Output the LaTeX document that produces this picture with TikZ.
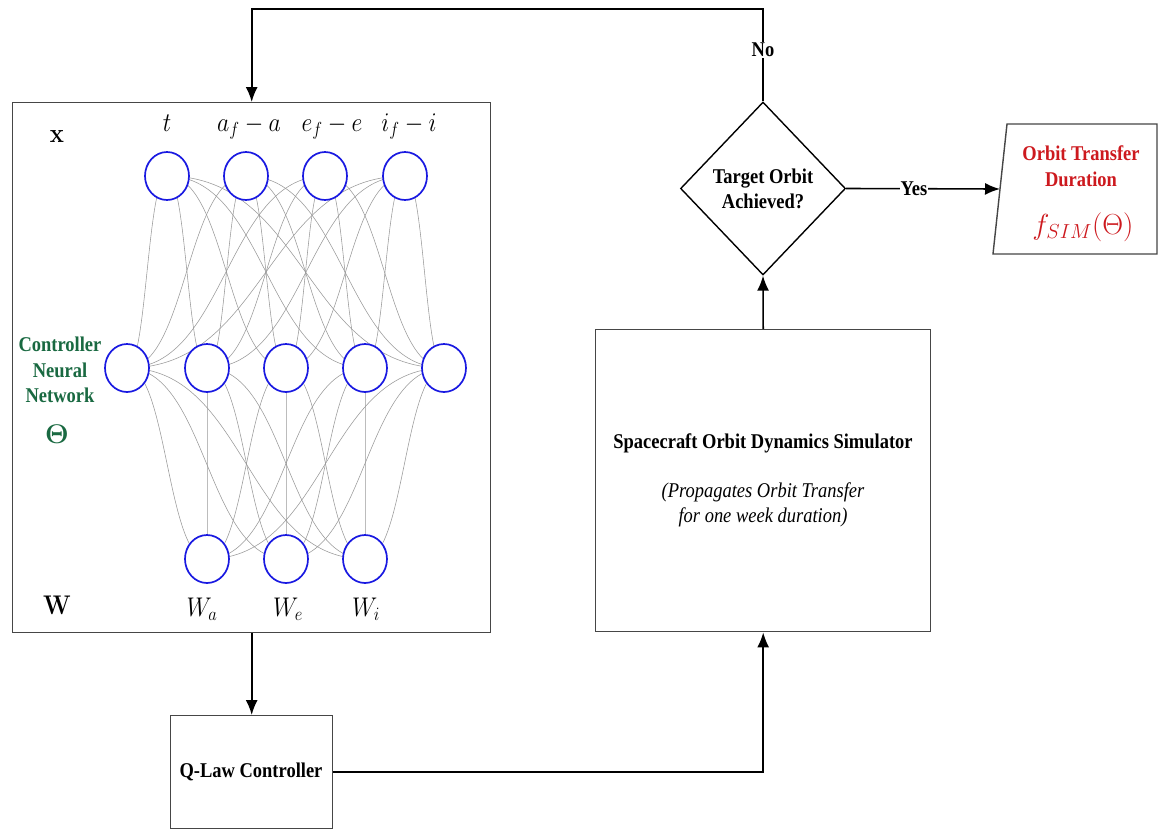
\documentclass[tikz,border=0pt]{standalone}
\usepackage{fix-cm}
\usepackage[no-math]{fontspec}
\setmainfont{Liberation Serif}[FakeStretch=0.88]
\usetikzlibrary{shapes.geometric,arrows.meta,calc,backgrounds}
\pgfdeclarelayer{bg}
\pgfsetlayers{bg,background,main}
\definecolor{nnblue}{RGB}{25,25,225}
\definecolor{nngreen}{RGB}{25,105,65}
\definecolor{outred}{RGB}{205,25,30}
\definecolor{boxgray}{RGB}{70,70,70}
\newcommand\hsq[1]{\scalebox{0.88}[1]{#1}}
\tikzset{
  neuron/.style={ellipse, draw=nnblue, line width=1.7pt, fill=white, minimum width=44pt, minimum height=48pt, inner sep=0pt},
  syn/.style={draw=black!40, line width=0.55pt},
  block/.style={draw=boxgray, line width=1.4pt},
  flow/.style={draw=black, line width=1.6pt, -{Latex[length=15pt,width=12pt]}},
  txt/.style={font=\fontsize{21}{25.5}\selectfont\bfseries, align=center, inner sep=1pt},
  lbl/.style={txt, fill=white, inner sep=1pt},
  mlab/.style={font=\fontsize{27}{30}\selectfont, inner sep=0pt, anchor=base},
}
\begin{document}
\begin{tikzpicture}[x=1pt,y=-1pt]
\begin{pgfonlayer}{bg}
  \fill[white] (0,0) rectangle (1159,830);
\end{pgfonlayer}
\useasboundingbox (0,0) rectangle (1159,830);

% boxes
\node[block, minimum width=478pt, minimum height=530pt, anchor=north west, inner sep=0pt] (nn) at (12,102) {};
\node[block, minimum width=335pt, minimum height=302pt, anchor=north west, inner sep=0pt] (sim) at (595,329) {};
\node[block, minimum width=162pt, minimum height=113pt, anchor=north west, inner sep=0pt] (ql) at (170,715) {};
\node[diamond, draw=black, line width=1.4pt, minimum width=165pt, minimum height=173pt, inner sep=0pt] (dec) at (763,188.5) {};
\draw[block] (1007,124) -- (1157,124) -- (1157,254) -- (993,254) -- cycle;
\coordinate (outL) at (1000,189);

% neurons
\foreach \n/\x in {1/167,2/246,3/325,4/405} \node[neuron] (t\n) at (\x,176) {};
\foreach \n/\x in {1/127,2/207,3/286,4/365,5/444} \node[neuron] (m\n) at (\x,368) {};
\foreach \n/\x in {1/207,2/286,3/365} \node[neuron] (b\n) at (\x,559) {};

\begin{pgfonlayer}{background}
\foreach \i in {1,...,4} \foreach \j in {1,...,5} {
  \draw[syn] let \p1=(t\i.center), \p2=(m\j.center) in
    (\p1) .. controls ({(\x1+\x2)/2},\y1) and ({(\x1+\x2)/2},\y2) .. (\p2);
}
\foreach \i in {1,...,5} \foreach \j in {1,...,3} {
  \draw[syn] let \p1=(m\i.center), \p2=(b\j.center) in
    (\p1) .. controls ({(\x1+\x2)/2},\y1) and ({(\x1+\x2)/2},\y2) .. (\p2);
}
\end{pgfonlayer}

% network labels
\node[mlab] (lx) at (57,142) {\hsq{$\mathbf{x}$}};
\node[mlab] (l1) at (167,131) {\hsq{$t$}};
\node[mlab] (l2) at (249,131) {\hsq{$a_f-a$}};
\node[mlab] (l3) at (332,131) {\hsq{$e_f-e$}};
\node[mlab] (l4) at (409,131) {\hsq{$i_f-i$}};
\node[mlab] (lW) at (57,614) {\hsq{$\mathbf{W}$}};
\node[mlab] (lWa) at (202,616) {\hsq{$W_a$}};
\node[mlab] (lWe) at (288,616) {\hsq{$W_e$}};
\node[mlab] (lWi) at (366,616) {\hsq{$W_i$}};
\node[txt, text=nngreen] (cnn) at (60,370) {Controller\\Neural\\Network};
\node[text=nngreen, font=\fontsize{27}{28}\selectfont, inner sep=0pt] (th) at (57,434) {$\mathbf{\Theta}$};

% block texts
\node[txt] (dect) at (763,189) {Target Orbit\\Achieved?};
\node[txt] (simt) at (763,443) {Spacecraft Orbit Dynamics Simulator};
\node[txt, font=\fontsize{21}{25.5}\selectfont\itshape] (simd) at (763,505) {(Propagates Orbit Transfer\\for one week duration)};
\node[txt] (qlt) at (251,772) {Q-Law Controller};
\node[txt, text=outred] (outt) at (1081,166) {Orbit Transfer\\Duration};
\node[text=outred, font=\fontsize{29}{30}\selectfont, inner sep=0pt, anchor=base] (outf) at (1083,234) {$f_{SIM}(\Theta)$};

% connectors
\coordinate (topc) at (763,9);
\draw[flow] (dec.north) -- (topc) -| (nn.north);
\node[lbl] (no) at (763,50) {No};
\draw[flow] (dec.east) -- node[lbl, pos=0.44] (yes) {Yes} (outL);
\draw[flow] (sim.north) -- (dec.south);
\draw[flow] (nn.south) -- (ql.north);
\draw[flow] (ql.east) -| (sim.south);
\end{tikzpicture}
\end{document}
